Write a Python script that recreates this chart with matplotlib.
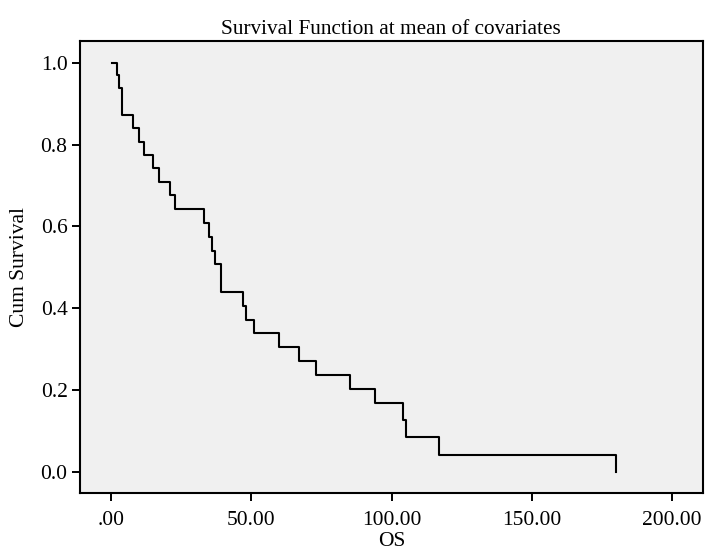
import matplotlib
matplotlib.use("Agg")
import matplotlib.pyplot as plt

# survival function (time, cum survival after step)
times = [0.5, 2.1, 3.0, 3.9, 7.9, 10.1, 11.9, 15.1, 17.0, 21.0, 22.9,
         33.2, 35.0, 36.0, 37.0, 39.1, 47.2, 48.0, 51.0, 60.0, 67.1,
         73.1, 85.1, 94.1, 104.1, 105.1, 117.0, 180.0]
survival = [1.0, 0.970, 0.938, 0.873, 0.840, 0.807, 0.776, 0.744, 0.710,
            0.677, 0.642, 0.609, 0.575, 0.541, 0.508, 0.440, 0.405, 0.372,
            0.339, 0.305, 0.271, 0.237, 0.203, 0.169, 0.127, 0.085, 0.042, 0.0]

x_ticks = [0, 50, 100, 150, 200]
x_labels = [".00", "50.00", "100.00", "150.00", "200.00"]
y_ticks = [0.0, 0.2, 0.4, 0.6, 0.8, 1.0]
y_labels = ["0.0", "0.2", "0.4", "0.6", "0.8", "1.0"]

plt.rcParams['font.family'] = ['Liberation Serif', 'DejaVu Serif']

fig = plt.figure(figsize=(7.08, 5.54), dpi=100)
ax = fig.add_axes([0.113, 0.1096, 0.8795, 0.8169])
ax.set_facecolor("#f0f0f0")

ax.step(times, survival, where="post", color="black", linewidth=1.5)

ax.set_xlim(-11.05, 210.9)
ax.set_ylim(-0.0529, 1.0546)
ax.set_xticks(x_ticks)
ax.set_xticklabels(x_labels)
ax.set_yticks(y_ticks)
ax.set_yticklabels(y_labels)
ax.tick_params(direction="out", length=6, width=1.4, labelsize=15.5)
ax.tick_params(axis="x", pad=7)
ax.tick_params(axis="y", pad=3)

for s in ax.spines.values():
    s.set_linewidth(1.5)
    s.set_color("black")

ax.set_title("Survival Function at mean of covariates", fontsize=15.3, pad=5)
ax.set_xlabel("OS", fontsize=15.5, labelpad=1)
ax.set_ylabel("Cum Survival", fontsize=15.5, labelpad=8)

fig.savefig("out.png", dpi=100)
